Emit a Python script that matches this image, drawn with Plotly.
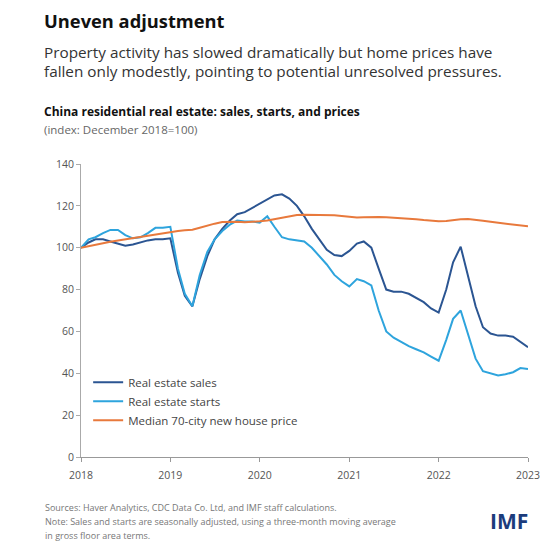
import pandas as pd
import plotly.graph_objects as go

months = pd.date_range("2018-01-01", periods=61, freq="MS")

sales = [100, 102.5, 104, 104, 103, 102, 101, 101.5, 102.5, 103.5, 104, 104, 104.5,
         88, 77, 72, 85, 96, 104, 109, 113, 116, 117, 119, 121, 123, 125, 125.5,
         123.5, 120, 115, 109, 104, 99, 96.5, 96, 98.5, 102, 103, 100, 90, 80, 79,
         79, 78, 76, 74, 71, 69, 80, 93, 100.5, 87, 72, 62, 59, 58, 58, 57.5, 55, 52.5]

starts = [100, 104, 105, 107, 108.5, 108.5, 106, 104.5, 105, 107, 109.5, 109.5, 110,
          90, 78, 72, 87, 98, 104, 108, 111, 113, 112.5, 112.5, 112, 115, 110, 105,
          104, 103.5, 103, 100, 96, 92, 87, 84, 81.5, 85, 84, 82, 70, 60, 57, 55, 53,
          51.5, 50, 48, 46, 56, 66, 70, 59, 47, 41, 40, 39, 39.5, 40.5, 42.5, 42]

price = [100, 100.8, 101.5, 102.2, 102.8, 103.4, 104, 104.6, 105.2, 105.8, 106.4, 107,
         107.5, 108, 108.3, 108.6, 109.5, 110.6, 111.5, 112.3, 112.5, 112.4, 112.2,
         112.3, 112.6, 113, 113.6, 114.3, 115, 115.6, 115.8, 115.8, 115.7, 115.6,
         115.5, 115.2, 114.8, 114.4, 114.6, 114.8, 114.7, 114.5, 114.3, 114.2, 114.0,
         113.6, 113.2, 112.8, 112.6, 112.8, 113.2, 113.6, 113.7, 113.4, 112.9, 112.4,
         111.9, 111.4, 110.9, 110.5, 110.2]

series_names = ["Real estate sales", "Real estate starts", "Median 70-city new house price"]
year_ticks = pd.date_range("2018-01-01", periods=6, freq="YS")
year_labels = ["2018", "2019", "2020", "2021", "2022", "2023"]
y_ticks = [0, 20, 40, 60, 80, 100, 120, 140]

colors = ["#2b5592", "#2ea4dd", "#e8793c"]

fig = go.Figure()
for name, vals, c in zip(series_names, [sales, starts, price], colors):
    fig.add_trace(go.Scatter(x=months, y=vals, mode="lines", name=name,
                             line=dict(color=c, width=2)))

# page is rendered with an 8px body margin; figure sized/offset to compensate
L, R, T, B = 73, 32, 156, 92
W, H = 552, 541
PX0, PX1, PY0, PY1 = 81, 528, 164, 457  # plot area in page coordinates


def px(xp):
    return (xp - PX0) / (PX1 - PX0)


def py(yp):
    return 1 - (yp - PY0) / (PY1 - PY0)


fig.update_layout(
    width=W, height=H,
    margin=dict(l=L, r=R, t=T, b=B),
    paper_bgcolor="white", plot_bgcolor="white",
    font=dict(family="Open Sans", color="#555"),
    showlegend=True,
    legend=dict(x=0.016, y=0.305, xanchor="left", yanchor="top",
                bgcolor="rgba(0,0,0,0)", font=dict(size=11.5, color="#444"),
                tracegroupgap=0, itemwidth=30),
    xaxis=dict(range=[months[0], months[-1]], tickvals=year_ticks, ticktext=year_labels,
               showgrid=False, showline=True, linecolor="#999", linewidth=1,
               ticks="outside", ticklen=4, tickcolor="#999", ticklabelstandoff=4,
               tickfont=dict(size=10.5, color="#555"), zeroline=False),
    yaxis=dict(range=[0, 140], tickvals=y_ticks, showgrid=False, showline=True,
               linecolor="#aaa", linewidth=1, ticks="outside", ticklen=4,
               tickcolor="#aaa", tickfont=dict(size=10.5, color="#555"), zeroline=False),
)

annos = [
    dict(text="<b>Uneven adjustment</b>", x=42, y=6, size=18.3, color="#111"),
    dict(text="Property activity has slowed dramatically but home prices have", x=42, y=40, size=15.3, color="#333"),
    dict(text="fallen only modestly, pointing to potential unresolved pressures.", x=42, y=59, size=15.3, color="#333"),
    dict(text="<b>China residential real estate: sales, starts, and prices</b>", x=42, y=101, size=12, color="#111"),
    dict(text="(index: December 2018=100)", x=42, y=120, size=11.5, color="#666"),
    dict(text="Sources: Haver Analytics, CDC Data Co. Ltd, and IMF staff calculations.", x=43, y=499, size=9, color="#777"),
    dict(text="Note: Sales and starts are seasonally adjusted, using a three-month moving average", x=43, y=513, size=9, color="#777"),
    dict(text="in gross floor area terms.", x=43, y=527, size=9, color="#777"),
]
for a in annos:
    fig.add_annotation(text=a["text"], xref="paper", yref="paper",
                       x=px(a["x"]), y=py(a["y"]),
                       xanchor="left", yanchor="top", showarrow=False,
                       font=dict(size=a["size"], color=a["color"], family="Open Sans"))

fig.add_annotation(text="<b>IMF</b>", xref="paper", yref="paper",
                   x=px(530), y=py(505),
                   xanchor="right", yanchor="top", showarrow=False,
                   font=dict(size=21, color="#1c3c7c", family="Open Sans"))

fig.write_html("out.html")
